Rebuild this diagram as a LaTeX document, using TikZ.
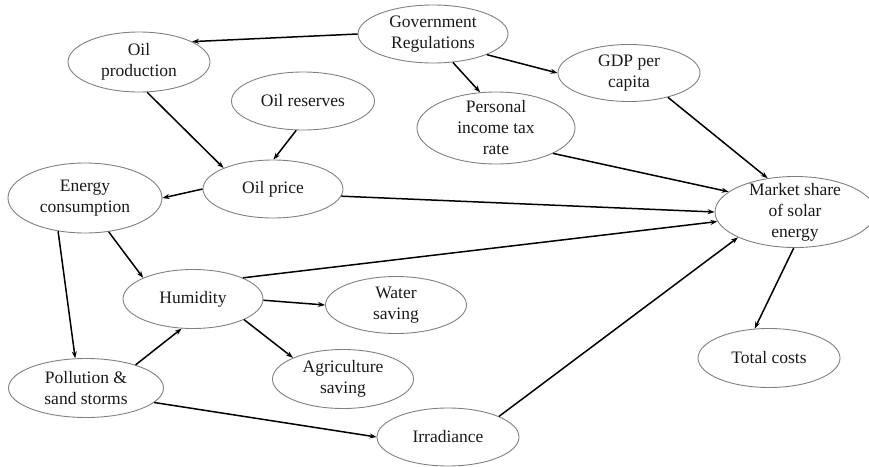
\documentclass[tikz,border=0pt]{standalone}
\usepackage{fontspec}
\setmainfont{Liberation Serif}
\usetikzlibrary{shapes.geometric,arrows.meta}
\begin{document}
\begin{tikzpicture}[x=1pt,y=-1pt,
  ell/.style={ellipse, draw=black!50, line width=0.9pt, inner sep=0pt},
  lbl/.style={align=center, font=\fontsize{17.5}{21}\selectfont, inner sep=0pt, text=black!90},
  arr/.style={-{Stealth[length=7pt,width=5pt]}, line width=1.5pt}]
\useasboundingbox (0,0) rectangle (869,466);
% ellipses
\node[ell, minimum width=150pt, minimum height=58pt] (gov) at (433,34) {};
\node[ell, minimum width=142pt, minimum height=60pt] (op) at (139,62) {};
\node[ell, minimum width=143pt, minimum height=58pt] (or) at (303,101) {};
\node[ell, minimum width=142pt, minimum height=57pt] (gdp) at (629,73) {};
\node[ell, minimum width=158pt, minimum height=72pt] (pit) at (496,128) {};
\node[ell, minimum width=140pt, minimum height=58pt] (price) at (273,189) {};
\node[ell, minimum width=154pt, minimum height=70pt] (en) at (85,198) {};
\node[ell, minimum width=160pt, minimum height=71pt] (ms) at (795,212) {};
\node[ell, minimum width=140pt, minimum height=59pt] (hum) at (193,299) {};
\node[ell, minimum width=141pt, minimum height=57pt] (ws) at (396,305) {};
\node[ell, minimum width=141pt, minimum height=59pt] (ag) at (343,379) {};
\node[ell, minimum width=155pt, minimum height=59pt] (pol) at (86,388) {};
\node[ell, minimum width=142pt, minimum height=59pt] (tc) at (769,358) {};
\node[ell, minimum width=142pt, minimum height=58pt] (irr) at (448,437) {};
% labels
\node[lbl] (govt) at (gov) {Government\\Regulations};
\node[lbl] (opt) at (op) {Oil\\production};
\node[lbl] (ort) at (or) {Oil reserves};
\node[lbl] (gdpt) at (gdp) {GDP per\\capita};
\node[lbl] (pitt) at (pit) {Personal\\income tax\\rate};
\node[lbl] (pricet) at (price) {Oil price};
\node[lbl] (ent) at (en) {Energy\\consumption};
\node[lbl] (mst) at (ms) {Market share\\of solar\\energy};
\node[lbl] (humt) at (hum) {Humidity};
\node[lbl] (wst) at (ws) {Water\\saving};
\node[lbl] (agt) at (ag) {Agriculture\\saving};
\node[lbl] (polt) at (pol) {Pollution \&\\sand storms};
\node[lbl] (tct) at (tc) {Total costs};
\node[lbl] (irrt) at (irr) {Irradiance};
% connectors
\draw[arr] (gov.180) -- (op.21);
\draw[arr] (gov.-55) -- (pit.114);
\draw[arr] (gov.-21) -- (gdp.180);
\draw[arr] (op.-75) -- (price.157);
\draw[arr] (or.-103) -- (price.89);
\draw[arr] (price.180) -- (en.0);
\draw[arr] (price.-6) -- (ms.180);
\draw[arr] (gdp.-32) -- (ms.129);
\draw[arr] (pit.-24) -- (ms.163);
\draw[arr] (en.-55) -- (hum.157);
\draw[arr] (en.-129) -- (pol.110);
\draw[arr] (hum.23) -- (ms.-173);
\draw[arr] (hum.-1) -- (ws.180);
\draw[arr] (hum.-22) -- (ag.157);
\draw[arr] (pol.25) -- (hum.-111);
\draw[arr] (pol.-12) -- (irr.180);
\draw[arr] (irr.22) -- (ms.-156);
\draw[arr] (ms.-92) -- (tc.116);
\end{tikzpicture}
\end{document}
